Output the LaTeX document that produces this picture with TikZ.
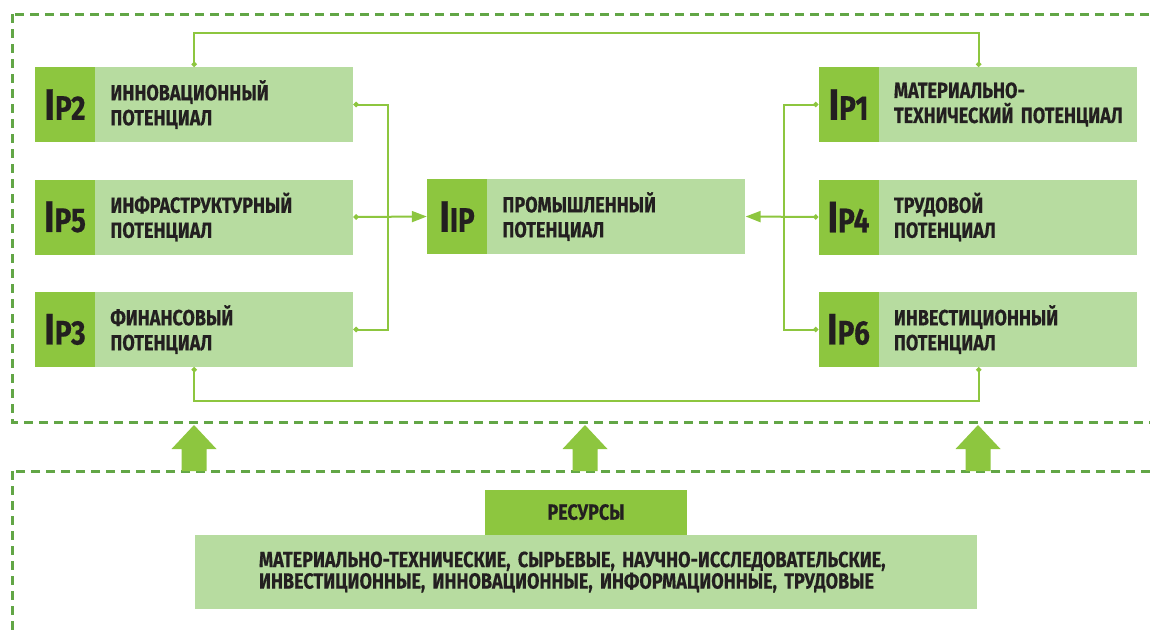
\documentclass[tikz,border=0pt]{standalone}
\usepackage{fontspec}
\setmainfont{Fira Sans}[FakeStretch=0.82, BoldFeatures={FakeBold=0.4}]
\usepackage{xcolor}
\usepackage{tikz}
\usetikzlibrary{
	arrows.meta,
	calc,
	positioning
}
\newcommand\TikzUpArrow[2]{
	% #1: x of the tip
	% #2: y of the tip
	% Example: \fill \TikzUpArrow{100}{425};
	(#1,#2) -- ++(22.5,24) -- ++(-10,0) -- ++(0,22) -- ++(-25,0)
	-- ++(0,-22) -- ++(-10,0) -- cycle
}
\tikzstyle{every picture}+=[>={Triangle[length=15pt, width=11pt]}]
\definecolor{darkgreen}{RGB}{141,198,63}
\definecolor{lightgreen}{RGB}{183,220,160}
\definecolor{dashgreen}{RGB}{98,166,70}
\definecolor{ink}{RGB}{35,31,32}

\begin{document}
\begin{tikzpicture}[x=1pt, y=-1pt]

	\clip (0,0) rectangle (1150,630);
	\newcommand\IdxLabel[1]{{\fontsize{44}{44}\selectfont I}#1}
	\begin{scope}[
			dark/.style={fill=darkgreen, text=ink, minimum width=60pt, minimum height=75pt, inner sep=0pt,
				font=\bfseries\fontsize{34}{34}\selectfont},
			light/.style={fill=lightgreen, text=ink, text width=228pt, inner xsep=15pt, inner ysep=0pt,
				minimum height=75pt, align=left, font=\bfseries\fontsize{22}{25}\selectfont},
			link/.style={draw=darkgreen, line width=2pt},
			arr/.style={link, {Circle[length=5pt]}->},
			dot/.style={link, {Circle[length=5pt]}-{Circle[length=5pt]}},
			dashbox/.style={draw=dashgreen, line width=3pt, dash pattern=on 9pt off 6pt}
			]
		\draw[dashbox] (12,14) rectangle (1170,422);
		\draw[dashbox] (12,471) rectangle (1170,632);

		\foreach \name/\x/\y/\num/\txt in {
				ip2/65/104.5/2/{ИННОВАЦИОННЫЙ\\ПОТЕНЦИАЛ},
				ip5/65/217/5/{ИНФРАСТРУКТУРНЫЙ\\ПОТЕНЦИАЛ},
				ip3/65/329.5/3/{ФИНАНСОВЫЙ\\ПОТЕНЦИАЛ},
				ip1/848.5/104.5/1/{МАТЕРИАЛЬНО-\\\mbox{ТЕХНИЧЕСКИЙ ПОТЕНЦИАЛ}},
				ip4/848.5/217/4/{ТРУДОВОЙ\\ПОТЕНЦИАЛ},
				ip6/848.5/329.5/6/{ИНВЕСТИЦИОННЫЙ\\ПОТЕНЦИАЛ}} {
			\node[dark] (\name) at (\x,\y) {\IdxLabel{P\num}};
			\node[light, right=0pt of \name] (\name txt) {\txt};
		}

		\node[dark] (iip) at (457,216.5) {\IdxLabel{IP}};
		\node[light, right=0pt of iip] (iiptxt) {ПРОМЫШЛЕННЫЙ\\ПОТЕНЦИАЛ};

		% the two rails that collect the potentials
		\coordinate (lbus) at (388,217);
		\coordinate (rbus) at (784,217);
		\draw[arr] (ip5txt.east) -- (iip.west);
		\draw[link, {Circle[length=5pt]}-] (ip2txt.east) -| (lbus);
		\draw[link, {Circle[length=5pt]}-] (ip3txt.east) -| (lbus);
		\draw[arr] (ip4.west) -- (iiptxt.east);
		\draw[link, {Circle[length=5pt]}-] (ip1.west) -| (rbus);
		\draw[link, {Circle[length=5pt]}-] (ip6.west) -| (rbus);

		% loops over the top and under the bottom
		\draw[dot] ([xshift=99pt]ip2txt.north west) -- ++(0,-34) -| ([xshift=100pt]ip1txt.north west);
		\draw[dot] ([xshift=99pt]ip3txt.south west) -- ++(0,34) -| ([xshift=100pt]ip6txt.south west);

		\foreach \x in {194, 585, 978} {
			\fill[darkgreen] \TikzUpArrow{\x}{425};
		}

		\node[light, text width=654pt, inner xsep=64pt, minimum height=74pt,
			font=\bfseries\fontsize{22}{21.5}\selectfont] (resbody) at (586,572)
			{МАТЕРИАЛЬНО-ТЕХНИЧЕСКИЕ, СЫРЬЕВЫЕ, НАУЧНО-ИССЛЕДОВАТЕЛЬСКИЕ,\\ИНВЕСТИЦИОННЫЕ, ИННОВАЦИОННЫЕ, ИНФОРМАЦИОННЫЕ, ТРУДОВЫЕ};
		\node[dark, minimum width=202pt, minimum height=45pt, font=\bfseries\fontsize{22}{24}\selectfont,
			above=0pt of resbody] (restitle) {РЕСУРСЫ};
	\end{scope}

\end{tikzpicture}
\end{document}
